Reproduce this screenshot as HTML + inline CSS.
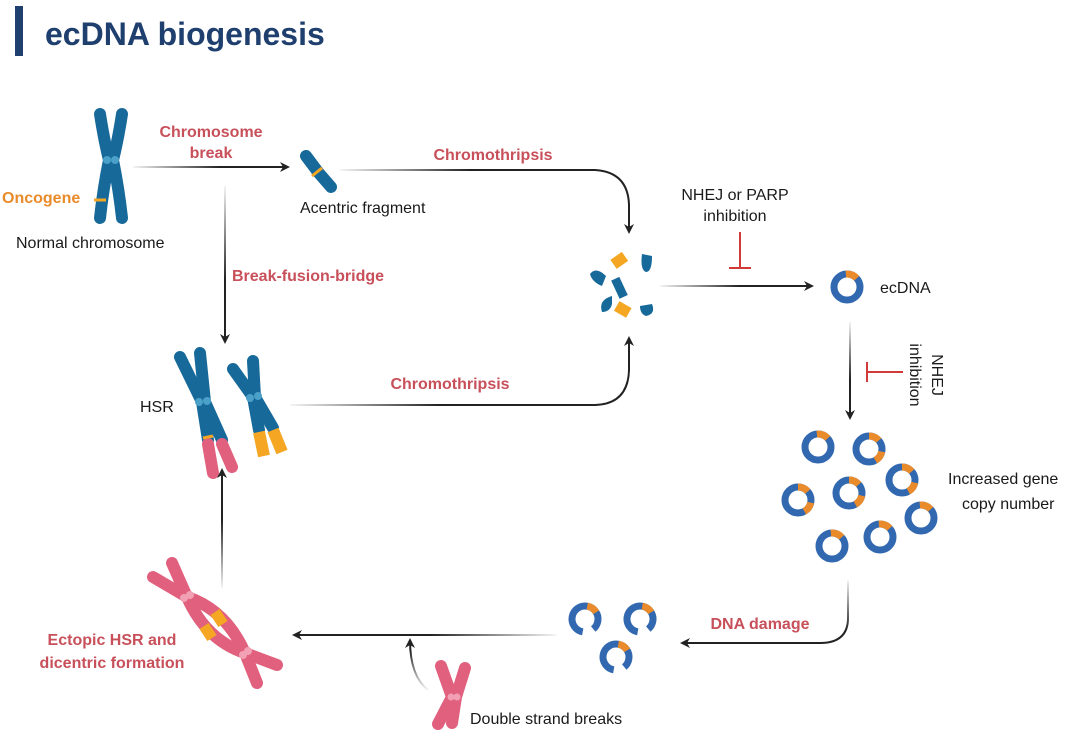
<!DOCTYPE html>
<html><head><meta charset="utf-8"><style>
html,body{margin:0;padding:0;background:#fff;}
svg{display:block;}
text{font-family:"Liberation Sans",Arial,sans-serif;}
.r{fill:#c8505a;font-weight:bold;font-size:16px;}
.k{fill:#1a1a1a;font-size:16px;}
.b{stroke:#17699a;fill:none;stroke-linecap:round;stroke-width:12;}
.p{stroke:#e0607e;fill:none;stroke-linecap:round;stroke-width:12;}
.o{stroke:#f5a623;fill:none;stroke-width:12;}
.inh{stroke:#d23a3a;stroke-width:2;fill:none;}
</style></head><body>
<svg width="1080" height="732" viewBox="0 0 1080 732" xmlns="http://www.w3.org/2000/svg">
<defs>
<marker id="ah" markerWidth="10" markerHeight="10" refX="8" refY="5" orient="auto" markerUnits="userSpaceOnUse"><path d="M0,0 L10,5 L0,10 L3,5 Z" fill="#222"/></marker>
<linearGradient id="g1" gradientUnits="userSpaceOnUse" x1="133" y1="0" x2="220" y2="0"><stop offset="0" stop-color="#222" stop-opacity="0.05"/><stop offset="1" stop-color="#222"/></linearGradient>
<linearGradient id="g2" gradientUnits="userSpaceOnUse" x1="340" y1="0" x2="470" y2="0"><stop offset="0" stop-color="#222" stop-opacity="0.05"/><stop offset="1" stop-color="#222"/></linearGradient>
<linearGradient id="g3" gradientUnits="userSpaceOnUse" x1="660" y1="0" x2="740" y2="0"><stop offset="0" stop-color="#222" stop-opacity="0.05"/><stop offset="1" stop-color="#222"/></linearGradient>
<linearGradient id="g4" gradientUnits="userSpaceOnUse" x1="0" y1="322" x2="0" y2="380"><stop offset="0" stop-color="#222" stop-opacity="0.05"/><stop offset="1" stop-color="#222"/></linearGradient>
<linearGradient id="g5" gradientUnits="userSpaceOnUse" x1="0" y1="186" x2="0" y2="280"><stop offset="0" stop-color="#222" stop-opacity="0.05"/><stop offset="1" stop-color="#222"/></linearGradient>
<linearGradient id="g6" gradientUnits="userSpaceOnUse" x1="290" y1="0" x2="440" y2="0"><stop offset="0" stop-color="#222" stop-opacity="0.05"/><stop offset="1" stop-color="#222"/></linearGradient>
<linearGradient id="g7" gradientUnits="userSpaceOnUse" x1="0" y1="588" x2="0" y2="520"><stop offset="0" stop-color="#222" stop-opacity="0.05"/><stop offset="1" stop-color="#222"/></linearGradient>
<linearGradient id="g8" gradientUnits="userSpaceOnUse" x1="556" y1="0" x2="430" y2="0"><stop offset="0" stop-color="#222" stop-opacity="0.05"/><stop offset="1" stop-color="#222"/></linearGradient>
<linearGradient id="g9" gradientUnits="userSpaceOnUse" x1="0" y1="690" x2="0" y2="650"><stop offset="0" stop-color="#222" stop-opacity="0.05"/><stop offset="1" stop-color="#222"/></linearGradient>
<linearGradient id="g10" gradientUnits="userSpaceOnUse" x1="0" y1="580" x2="0" y2="630"><stop offset="0" stop-color="#222" stop-opacity="0.05"/><stop offset="1" stop-color="#222"/></linearGradient>
<g id="ring"><circle r="13" fill="none" stroke="#3268b0" stroke-width="7"/><circle r="13" fill="none" stroke="#e98b2a" stroke-width="7" stroke-dasharray="12 70" transform="rotate(-95)"/></g>
<g id="ring2"><circle r="13" fill="none" stroke="#3268b0" stroke-width="7"/><circle r="13" fill="none" stroke="#e98b2a" stroke-width="7" stroke-dasharray="11 12 11 60" transform="rotate(-90)"/></g>
<g id="bring"><circle r="13" fill="none" stroke="#3268b0" stroke-width="7" stroke-dasharray="70 12" transform="rotate(100)"/><circle r="13" fill="none" stroke="#e98b2a" stroke-width="7" stroke-dasharray="11 72" transform="rotate(-80)"/></g>
</defs>

<rect x="15" y="6" width="8" height="50" fill="#1f3f6e"/>
<text x="45" y="45" style="font-size:32px;font-weight:bold;fill:#1f3f6e">ecDNA biogenesis</text>

<path class="b" d="M100,114 Q104,140 109,160 Q103,190 100,218"/>
<path class="b" d="M122,114 Q118,140 113,160 Q119,190 122,218"/>
<line x1="94" y1="200" x2="106" y2="200" stroke="#f5a623" stroke-width="3"/>
<circle cx="107" cy="160" r="4" fill="#4aa0c8"/><circle cx="115" cy="160" r="4" fill="#4aa0c8"/>
<text x="2" y="203" style="font-size:16px;font-weight:bold;fill:#e98b2a">Oncogene</text>
<text x="16" y="248" class="k">Normal chromosome</text>

<text x="211" y="137" class="r" text-anchor="middle">Chromosome</text>
<text x="211" y="158" class="r" text-anchor="middle">break</text>
<path d="M133,167 L288,167" stroke="url(#g1)" stroke-width="2" fill="none" marker-end="url(#ah)"/>

<path class="b" d="M306,156 L318,172 L331,187" stroke-width="10"/>
<line x1="312" y1="176" x2="322" y2="168" stroke="#f5a623" stroke-width="3"/>
<text x="300" y="213" class="k">Acentric fragment</text>

<text x="493" y="160" class="r" text-anchor="middle">Chromothripsis</text>
<path d="M340,170 L595,170 Q628,172 629,205 L629,232" stroke="url(#g2)" stroke-width="2" fill="none" marker-end="url(#ah)"/>

<g fill="#17699a">
<rect x="612" y="255" width="14" height="11" fill="#f5a623" transform="rotate(-35 619 260)"/>
<path d="M642,254 L652,256 Q652,272 646,272 Q640,270 642,254Z"/>
<path d="M590,274 Q596,266 606,276 L602,286 Q592,282 590,274Z"/>
<rect x="615" y="278" width="9" height="20" transform="rotate(-25 619 288)"/>
<path d="M602,312 Q598,300 612,296 L612,304 Q610,312 602,312Z"/>
<rect x="616" y="304" width="14" height="11" fill="#f5a623" transform="rotate(30 623 309)"/>
<path d="M640,306 L652,304 Q656,314 646,316 Q640,314 640,306Z"/>
</g>

<text x="735" y="200" class="k" text-anchor="middle">NHEJ or PARP</text>
<text x="735" y="221" class="k" text-anchor="middle">inhibition</text>
<path class="inh" d="M740,232 L740,268 M729,268 L751,268"/>
<path d="M660,286 L812,286" stroke="url(#g3)" stroke-width="2" fill="none" marker-end="url(#ah)"/>
<use href="#ring" x="847" y="287"/>
<text x="880" y="293" class="k">ecDNA</text>

<path d="M850,322 L850,418" stroke="url(#g4)" stroke-width="2" fill="none" marker-end="url(#ah)"/>
<path class="inh" d="M867,362 L867,382 M867,372 L903,372"/>
<text transform="translate(932,375) rotate(90)" class="k" text-anchor="middle">NHEJ</text>
<text transform="translate(910,375) rotate(90)" class="k" text-anchor="middle">inhibition</text>

<use href="#ring" x="818" y="447"/>
<use href="#ring2" x="869" y="449"/>
<use href="#ring2" x="902" y="480"/>
<use href="#ring2" x="798" y="500"/>
<use href="#ring2" x="849" y="493"/>
<use href="#ring" x="921" y="518"/>
<use href="#ring" x="832" y="546"/>
<use href="#ring" x="880" y="537"/>
<text x="948" y="484" class="k">Increased gene</text>
<text x="962" y="509" class="k">copy number</text>

<path d="M225,186 L225,342" stroke="url(#g5)" stroke-width="2" fill="none" marker-end="url(#ah)"/>
<text x="232" y="281" class="r">Break-fusion-bridge</text>

<text x="140" y="412" class="k">HSR</text>
<path class="b" d="M180,357 L202,402 L208,440"/>
<path class="p" d="M208,444 L213,473"/>
<path class="b" d="M200,353 L205,402 L222,440"/>
<path class="p" d="M222,444 L232,467"/>
<line x1="203" y1="438" x2="213" y2="436" stroke="#f5a623" stroke-width="3"/>
<circle cx="199" cy="402" r="4" fill="#4aa0c8"/><circle cx="207" cy="401" r="4" fill="#4aa0c8"/>
<path class="b" d="M233,369 L253,397 L259,430"/>
<path class="o" d="M259,432 L264,456" stroke-linecap="butt"/>
<path class="b" d="M253,361 L255,397 L273,428"/>
<path class="o" d="M273,430 L282,452" stroke-linecap="butt"/>
<circle cx="250" cy="398" r="4" fill="#4aa0c8"/><circle cx="258" cy="396" r="4" fill="#4aa0c8"/>

<text x="450" y="389" class="r" text-anchor="middle">Chromothripsis</text>
<path d="M290,405 L595,405 Q628,404 629,370 L629,338" stroke="url(#g6)" stroke-width="2" fill="none" marker-end="url(#ah)"/>

<path d="M222,588 L222,470" stroke="url(#g7)" stroke-width="2" fill="none" marker-end="url(#ah)"/>

<path class="p" d="M153,577 L187,597"/>
<path class="p" d="M172,563 L187,597"/>
<path class="p" d="M187,597 Q226,610 245,653" stroke-width="11"/>
<path class="p" d="M187,597 Q206,640 245,653" stroke-width="11"/>
<path class="p" d="M245,653 L257,683"/>
<path class="p" d="M245,653 L277,665"/>
<line x1="215" y1="612" x2="223" y2="624" stroke="#f5a623" stroke-width="11"/>
<line x1="204" y1="626" x2="212" y2="638" stroke="#f5a623" stroke-width="11"/>
<circle cx="184" cy="598" r="4" fill="#f2a0b4"/><circle cx="190" cy="595" r="4" fill="#f2a0b4"/>
<circle cx="243" cy="655" r="4" fill="#f2a0b4"/><circle cx="248" cy="651" r="4" fill="#f2a0b4"/>
<text x="112" y="645" class="r" text-anchor="middle">Ectopic HSR and</text>
<text x="112" y="668" class="r" text-anchor="middle">dicentric formation</text>

<path d="M556,635 L294,635" stroke="url(#g8)" stroke-width="2" fill="none" marker-end="url(#ah)"/>
<path d="M428,690 Q410,676 410,640" stroke="url(#g9)" stroke-width="2" fill="none" marker-end="url(#ah)"/>

<path class="p" d="M438,724 L452,697 L441,666" stroke-width="9"/>
<path class="p" d="M452,723 L456,697 L465,668" stroke-width="9"/>
<circle cx="451" cy="697" r="3.5" fill="#f2a0b4"/><circle cx="457" cy="697" r="3.5" fill="#f2a0b4"/>
<text x="470" y="724" class="k">Double strand breaks</text>

<use href="#bring" x="585" y="619"/>
<use href="#bring" x="640" y="619"/>
<use href="#bring" x="616" y="657"/>

<text x="760" y="629" class="r" text-anchor="middle">DNA damage</text>
<path d="M848,580 L848,618 Q848,643 820,643 L682,643" stroke="url(#g10)" stroke-width="2" fill="none" marker-end="url(#ah)"/>
</svg>
</body></html>
